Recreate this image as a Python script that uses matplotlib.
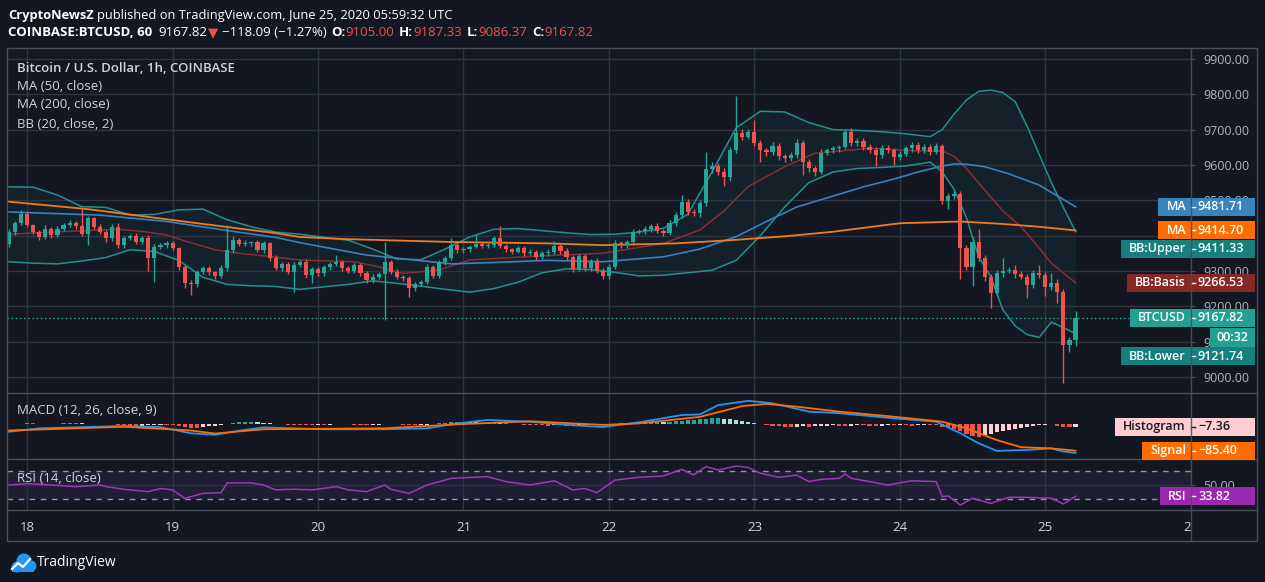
import matplotlib
matplotlib.use('Agg')
import matplotlib.pyplot as plt
import numpy as np
import pandas as pd
from matplotlib.patches import Rectangle, Circle
from matplotlib.ticker import FuncFormatter

# ---------------- DATA ----------------
start_time = '2020-06-17 21:00'
first_open = 9375.0
close = np.array([
    9410, 9436, 9462, 9430, 9411, 9396, 9420, 9402, 9420, 9430,
    9435, 9428, 9405, 9449, 9425, 9411, 9392, 9425, 9374, 9394,
    9400, 9383, 9392, 9336, 9369, 9373, 9378, 9364, 9312, 9265,
    9262, 9296, 9309, 9296, 9287, 9308, 9359, 9388, 9376, 9380,
    9381, 9359, 9378, 9336, 9308, 9320, 9298, 9317, 9326, 9289,
    9305, 9293, 9310, 9320, 9326, 9307, 9301, 9317, 9293, 9274,
    9284, 9291, 9326, 9298, 9284, 9279, 9251, 9263, 9270, 9312,
    9286, 9324, 9336, 9374, 9358, 9361, 9369, 9376, 9371, 9374,
    9392, 9371, 9361, 9355, 9364, 9350, 9355, 9340, 9350, 9355,
    9371, 9357, 9339, 9305, 9342, 9307, 9329, 9301, 9286, 9312,
    9380, 9373, 9383, 9411, 9414, 9418, 9428, 9413, 9408, 9435,
    9458, 9496, 9468, 9463, 9491, 9588, 9597, 9581, 9565, 9642,
    9691, 9680, 9694, 9663, 9641, 9636, 9654, 9624, 9619, 9628,
    9663, 9609, 9590, 9580, 9635, 9641, 9647, 9650, 9694, 9661,
    9668, 9652, 9643, 9628, 9649, 9643, 9622, 9631, 9647, 9656,
    9642, 9651, 9638, 9654, 9499, 9512, 9518, 9364, 9312, 9383,
    9336, 9282, 9237, 9293, 9301, 9303, 9291, 9284, 9260, 9293,
    9289, 9255, 9267, 9241, 9090, 9105, 9167.82], dtype=float)

upper_wick = np.array([
    8, 6, 10, 5, 4, 6, 9, 5, 7, 6,
    8, 5, 49, 6, 4, 7, 5, 8, 12, 6,
    5, 7, 8, 10, 6, 5, 8, 7, 5, 6,
    8, 7, 5, 6, 4, 8, 71, 10, 6, 8,
    5, 7, 6, 5, 8, 6, 5, 7, 6, 8,
    6, 5, 7, 6, 19, 5, 7, 6, 5, 8,
    6, 5, 57, 6, 8, 5, 7, 6, 5, 8,
    6, 7, 5, 18, 6, 8, 5, 26, 7, 6,
    8, 35, 6, 5, 7, 6, 8, 5, 6, 7,
    14, 6, 8, 5, 7, 6, 5, 8, 6, 7,
    8, 6, 5, 7, 6, 8, 5, 7, 6, 8,
    10, 19, 8, 7, 9, 50, 12, 8, 10, 9,
    104, 12, 9, 33, 8, 7, 10, 8, 6, 9,
    10, 8, 7, 6, 9, 8, 7, 6, 5, 10,
    8, 7, 6, 9, 8, 7, 6, 8, 7, 9,
    8, 7, 9, 8, 6, 10, 8, 7, 9, 12,
    35, 8, 10, 9, 35, 8, 14, 9, 8, 10,
    24, 8, 28, 9, 7, 8, 19.51], dtype=float)

lower_wick = np.array([
    6, 8, 5, 7, 6, 9, 5, 8, 6, 7,
    5, 8, 6, 31, 7, 5, 9, 6, 8, 10,
    6, 8, 7, 36, 66, 6, 8, 5, 9, 12,
    30, 8, 6, 7, 9, 6, 8, 7, 5, 6,
    8, 6, 7, 9, 6, 8, 7, 57, 6, 9,
    24, 7, 6, 8, 5, 7, 6, 8, 7, 9,
    8, 6, 130, 7, 6, 8, 24, 7, 5, 8,
    7, 6, 8, 5, 7, 6, 8, 5, 7, 6,
    5, 7, 6, 8, 5, 7, 6, 8, 5, 7,
    6, 8, 7, 9, 6, 8, 7, 6, 10, 8,
    6, 8, 7, 5, 6, 8, 7, 6, 8, 7,
    9, 8, 10, 7, 9, 8, 12, 9, 25, 10,
    8, 9, 7, 8, 32, 10, 8, 9, 12, 8,
    9, 37, 10, 12, 5, 8, 7, 9, 6, 8,
    7, 9, 8, 31, 7, 9, 22, 8, 7, 9,
    8, 7, 9, 8, 10, 25, 9, 88, 10, 55,
    9, 10, 43, 8, 9, 7, 10, 8, 37, 9,
    8, 26, 10, 33, 108, 18, 18.63], dtype=float)

# Bollinger bands (sampled at candle indices)
bb_idx = [0, 4, 8, 12, 16, 20, 24, 28, 32, 36, 40, 44, 48, 52, 56, 60, 64, 68, 72, 76,
          80, 84, 88, 92, 96, 100, 104, 108, 112, 116, 120, 124, 128, 132, 136, 140, 144,
          148, 152, 154, 156, 158, 160, 162, 164, 166, 168, 170, 172, 174, 176]
bb_upper = [9538, 9537, 9515, 9482, 9480, 9458, 9460, 9473, 9475, 9445, 9425, 9410, 9404,
            9395, 9387, 9362, 9334, 9332, 9362, 9396, 9418, 9420, 9414, 9408, 9403, 9404,
            9410, 9421, 9460, 9580, 9705, 9752, 9750, 9720, 9700, 9698, 9694, 9688, 9680,
            9700, 9745, 9784, 9808, 9812, 9805, 9780, 9710, 9630, 9550, 9480, 9411.33]
bb_lower = [9326, 9322, 9320, 9328, 9338, 9360, 9355, 9330, 9282, 9262, 9258, 9256, 9248,
            9255, 9262, 9272, 9265, 9257, 9248, 9240, 9250, 9268, 9295, 9306, 9304, 9296,
            9286, 9288, 9295, 9302, 9330, 9400, 9481, 9550, 9580, 9590, 9593, 9597, 9608,
            9580, 9530, 9450, 9340, 9284, 9190, 9145, 9120, 9112, 9155, 9140, 9121.74]
basis_idx = [0, 7, 15, 18, 22, 26, 29, 34, 38, 43, 48, 57, 61, 65, 71, 76, 87, 98, 108, 114,
             118, 122, 128, 133, 142, 150, 154, 156, 158, 161, 164, 167, 170, 172, 176]
basis_vals = [9404, 9410, 9416, 9418, 9412, 9402, 9385, 9360, 9350, 9341, 9331, 9326, 9312,
              9293, 9303, 9331, 9342, 9350, 9378, 9416, 9470, 9539, 9595, 9633, 9647, 9640,
              9640, 9624, 9590, 9529, 9470, 9425, 9365, 9322, 9266.53]

ma50_idx = [0, 15, 26, 37, 44, 48, 59, 73, 80, 89, 98, 108, 114, 120, 125, 130, 136, 141,
            146, 150, 154, 156, 158, 161, 165, 170, 176]
ma50_vals = [9467, 9458, 9440, 9412, 9395, 9380, 9345, 9320, 9324, 9330, 9326, 9340, 9362,
             9397, 9440, 9481, 9512, 9538, 9560, 9580, 9597, 9603, 9602, 9595, 9575, 9543,
             9481.71]
ma200_idx = [0, 13, 27, 44, 48, 56, 73, 89, 98, 110, 119, 128, 136, 147, 157, 164, 170, 176]
ma200_vals = [9496, 9475, 9444, 9407, 9396, 9390, 9382, 9378, 9373, 9378, 9387, 9398, 9411,
              9435, 9440, 9433, 9425, 9414.70]

# MACD
hist = np.array([
    1, 2, 2, 3, 3, 2, 2, 1, 2, 3, 3, 4, 3, 2, 2, 1, 1, 0,
    -2, -3, -4, -5, -4, -3, -2, -1, -1, -2, -6, -9, -11, -12, -9, -6, -4, -2,
    2, 4, 6, 7, 8, 7, 5, 3, 1, 0,
    -1, -2, -3, -3, -3, -2, -2, -1, 0, 1, 0, -1, -2, -3, -2, -1, 0, 1, 0, -1, -2, -3, -2, -1, 1,
    3, 5, 6, 7, 8, 7, 6, 5, 4, 4, 3, 3, 2, 1,
    -1, -2, -3, -3, -4, -3, -3, -4, -5, -4, -3, -2, -1,
    1, 2, 2, 3, 3, 4,
    5, 5, 6, 7, 6, 8, 10, 12, 14, 15, 17, 18, 19, 19, 18, 17, 15, 12, 8, 4, 1, -1,
    -4, -7, -9, -10, -8, -6, -8, -7,
    -5, -4, -3, -4, -5, -4, -3, -3, -4, -5, -4, -3, -3, -2, -3, -4, -3, -2, -2, -3,
    -8, -10, -14, -22, -30, -37, -40, -36, -30,
    -26, -22, -18, -14, -11, -8, -5, -3, -1,
    1, -4, -8, -9, -7.36], dtype=float)
macd_idx = [0, 5, 19, 25, 30, 34, 38, 42, 52, 62, 69, 74, 79, 86, 93, 98, 104, 111, 114,
            117, 122, 126, 132, 137, 146, 153, 157, 160, 163, 168, 172, 174, 176]
macd_vals = [-24, -13, -5.5, -9, -29, -34, -20.6, -10, -16, -16, -13, 3, 14, 8, -3, -9, 6.5,
             30, 32, 62, 76, 68, 41, 36, 19.4, 8.4, -29, -61.5, -86, -83, -78, -88, -92.76]
sig_idx = [0, 19, 30, 34, 42, 62, 74, 86, 98, 104, 114, 121, 125, 130, 137, 146, 154, 158,
           163, 167, 172, 176]
sig_vals = [-20, -8, -20, -30, -16, -13, 0, 10, -2, 3, 24, 59, 66, 57, 41, 24.6, 8.4, -13,
            -51, -74, -78, -85.40]

# RSI
rsi_idx = [0, 3, 7, 11, 15, 16, 19, 23, 25, 27, 29, 32, 35, 36, 40, 42, 44, 47, 50, 54,
           56, 59, 62, 63, 66, 69, 73, 79, 82, 86, 90, 93, 95, 97, 100, 104, 108, 111, 113,
           115, 117, 120, 122, 124, 127, 130, 132, 134, 137, 138, 139, 142, 145, 149, 153,
           154, 155, 157, 159, 162, 165, 168, 172, 174, 176]
rsi_vals = [50, 52, 50, 47.6, 50, 47.6, 43.8, 40.5, 45, 43, 31, 38, 39, 53, 53, 50, 43, 44,
            43, 47.6, 43, 40.5, 50, 43.8, 38, 50, 59.5, 61.9, 54.8, 50, 56, 43, 45, 39, 57,
            61, 62.9, 72.4, 64.3, 76.2, 71.4, 77, 75, 66.7, 61, 64, 55, 58, 59.5, 65.7, 59.5,
            54.8, 50, 56, 54.8, 33.3, 34.3, 21.4, 31, 23.8, 32.4, 32.4, 31, 22.9, 33.82]

price_ticks = [9000, 9100, 9200, 9300, 9400, 9500, 9600, 9700, 9800, 9900]
day_labels = ['18', '19', '20', '21', '22', '23', '24', '25', '26']
countdown = '00:32'

# ---------------- STYLE ----------------
BG = '#131722'
GRID = '#2f3441'
BORDER = '#4a4f5c'
TXT = '#d1d4dc'
AXT = '#b2b5be'
UP = '#26a69a'
DN = '#ef5350'

W, H = 1265, 582
plt.rcParams['font.family'] = ['Open Sans', 'DejaVu Sans']
fig = plt.figure(figsize=(W / 100, H / 100), dpi=100, facecolor=BG)


def add_px(x0, y0, x1, y1, **kw):
    return fig.add_axes([x0 / W, 1 - y1 / H, (x1 - x0) / W, (y1 - y0) / H], **kw)


ax = add_px(7, 48, 1191, 393)
mx = add_px(7, 393, 1191, 459, sharex=ax)
rx = add_px(7, 459, 1191, 510, sharex=ax)
dx = add_px(7, 510, 1191, 541, sharex=ax)

for a in (ax, mx, rx, dx):
    a.set_facecolor(BG)
    for s in a.spines.values():
        s.set_visible(False)

n = len(close)
idx = np.arange(n)
times = pd.date_range(start_time, periods=n, freq='h')
days = pd.date_range('2020-06-18', periods=len(day_labels), freq='D')
day_pos = [(d - times[0]) / pd.Timedelta(hours=1) for d in days]

ax.set_xlim(-0.33, 195.05)
ax.set_xticks(day_pos)
ax.set_ylim(8954.6, 9931)
mx.set_ylim(-112.3, 101.3)
rx.set_ylim(14.3, 87.1)
dx.set_ylim(0, 1)

# candles
opens = np.concatenate([[first_open], close[:-1]])
body_lo = np.minimum(opens, close)
body_hi = np.maximum(opens, close)
cols = np.where(close >= opens, UP, DN)
ax.vlines(idx, body_lo - lower_wick, body_hi + upper_wick, colors=cols, linewidth=1, zorder=4)
ax.bar(idx, np.maximum(body_hi - body_lo, 1.5), bottom=body_lo, width=0.68, color=cols,
       linewidth=0, zorder=5)

# indicators
ax.fill_between(bb_idx, bb_lower, bb_upper, color='#26a69a', alpha=0.07, lw=0, zorder=1)
ax.plot(bb_idx, bb_upper, color='#23908f', lw=1.1, zorder=3)
ax.plot(bb_idx, bb_lower, color='#23908f', lw=1.1, zorder=3)
ax.plot(basis_idx, basis_vals, color='#8a2d30', lw=1.1, zorder=3)
ax.plot(ma50_idx, ma50_vals, color='#3b80c0', lw=1.2, zorder=3)
ax.plot(ma200_idx, ma200_vals, color='#ef7d1f', lw=1.3, zorder=3)
ax.axhline(close[-1], color=UP, lw=1, ls=(0, (1, 2)), zorder=2)

covered = []  # pixel (top-origin) y ranges fully hidden by value labels


def price_fmt(v, p):
    yt = H - ax.transData.transform((0, v))[1]
    for a, b in covered:
        if a <= yt - 6 and yt + 6 <= b:
            return ''
    return f'{v:.2f}'


ax.set_yticks(price_ticks)
ax.yaxis.tick_right()
ax.yaxis.set_major_formatter(FuncFormatter(price_fmt))
ax.tick_params(axis='y', colors=BORDER, labelcolor=AXT, labelsize=9, length=3, pad=6)
ax.tick_params(axis='x', length=0, labelbottom=False)
ax.grid(True, color=GRID, lw=1, zorder=0)

# MACD
prev = np.concatenate([[hist[0]], hist[:-1]])
hcols = np.where(hist >= 0, np.where(hist >= prev, '#26a69a', '#b2dfdb'),
                 np.where(hist <= prev, '#ef5350', '#ffcdd2'))
mx.bar(idx, np.where(np.abs(hist) < 1.2, np.sign(hist + 1e-9) * 1.2, hist), width=0.68,
       color=hcols, linewidth=0, zorder=2)
mx.plot(macd_idx, macd_vals, color='#2196f3', lw=1.3, zorder=3)
mx.plot(sig_idx, sig_vals, color='#ff6d00', lw=1.3, zorder=3)
mx.tick_params(axis='both', length=0, labelbottom=False, labelleft=False, labelright=False)
mx.set_yticks([])
mx.grid(True, axis='x', color=GRID, lw=1, zorder=0)

# RSI
rx.axhspan(30, 70, color='#7e57c2', alpha=0.12, lw=0, zorder=1)
rx.axhline(70, color='#9598a1', lw=1, ls=(0, (4, 4)), zorder=2)
rx.axhline(30, color='#9598a1', lw=1, ls=(0, (4, 4)), zorder=2)
rx.plot(rsi_idx, rsi_vals, color='#9a3ab8', lw=1.1, zorder=3)
rx.set_yticks([50])
rx.yaxis.tick_right()
rx.yaxis.set_major_formatter(FuncFormatter(lambda v, p: f'{v:.2f}'))
rx.tick_params(axis='y', colors=BORDER, labelcolor=AXT, labelsize=9, length=3, pad=6)
rx.tick_params(axis='x', length=0, labelbottom=False)
rx.grid(True, color=GRID, lw=1, zorder=0)

dx.set_yticks([])
dx.tick_params(axis='x', length=0, labelbottom=False)
for p, lab in zip(day_pos, day_labels):
    dx.text(p, 0.42, lab, ha='center', va='center', color=TXT, fontsize=9.5, clip_on=True)

# ---------------- OVERLAY (pixel coords, top origin) ----------------
ov = fig.add_axes([0, 0, 1, 1])
ov.set_xlim(0, W)
ov.set_ylim(H, 0)
ov.axis('off')
ov.patch.set_alpha(0)

ov.add_patch(Rectangle((7, 48), 1250, 493, fill=False, ec=BORDER, lw=1))
for yy in (393, 459, 510):
    ov.plot([7, 1257], [yy, yy], color=BORDER, lw=1)

renderer = fig.canvas.get_renderer()


def ytop(a, v):
    return H - a.transData.transform((0, v))[1]


def seq_text(x, y, segs, size=9.5):
    for s, color, weight, gap in segs:
        t = ov.text(x, y, s, color=color, fontsize=size, fontweight=weight, va='center', ha='left')
        x += t.get_window_extent(renderer=renderer).width + gap
    return x


seq_text(8, 15, [('CryptoNewsZ', 'white', 'bold', 3),
                 ('published on TradingView.com, June 25, 2020 05:59:32 UTC', 'white', 'normal', 0)],
         size=9.3)
seq_text(8, 33, [('COINBASE:BTCUSD, 60', 'white', 'bold', 6),
                 (f'{close[-1]:.2f}', 'white', 'normal', 1),
                 ('▼', DN, 'normal', 3),
                 ('\u2212118.09 (\u22121.27%)', 'white', 'normal', 5),
                 ('O:', 'white', 'bold', 0), (f'{opens[-1]:.2f}', DN, 'normal', 5),
                 ('H:', 'white', 'bold', 0), (f'{body_hi[-1] + upper_wick[-1]:.2f}', DN, 'normal', 5),
                 ('L:', 'white', 'bold', 0), (f'{body_lo[-1] - lower_wick[-1]:.2f}', DN, 'normal', 5),
                 ('C:', 'white', 'bold', 0), (f'{close[-1]:.2f}', DN, 'normal', 0)])

ov.text(17, 68, 'Bitcoin / U.S. Dollar, 1h, COINBASE', color=TXT, fontsize=9.5,
        fontweight='semibold', va='center')
for yy, s in ((86, 'MA (50, close)'), (105, 'MA (200, close)'), (124, 'BB (20, close, 2)')):
    ov.text(17, yy, s, color=TXT, fontsize=9.5, va='center')
ov.text(17, 411, 'MACD (12, 26, close, 9)', color=TXT, fontsize=9.5, va='center')
ov.text(17, 478, 'RSI (14, close)', color=TXT, fontsize=9.5, va='center')


def axis_label(yc, name, value, bg, fg='white', h=18):
    tn = ov.text(1186, yc, name, color=fg, fontsize=9, fontweight='semibold',
                 ha='right', va='center', zorder=11)
    ov.text(1198, yc, value, color=fg, fontsize=9, fontweight='semibold',
            ha='left', va='center', zorder=11)
    x0 = tn.get_window_extent(renderer=renderer).x0 - 8
    ov.add_patch(Rectangle((x0, yc - h / 2), 1255 - x0, h, color=bg, lw=0, zorder=10))
    ov.plot([1191, 1195], [yc, yc], color=fg, lw=1, zorder=11)
    return yc - h / 2, yc + h / 2


labels = [
    (ytop(ax, ma50_vals[-1]), 'MA', f'{ma50_vals[-1]:.2f}', '#3a84bd', 0),
    (ytop(ax, ma200_vals[-1]), 'MA', f'{ma200_vals[-1]:.2f}', '#ff6d00', 0),
    (ytop(ax, bb_upper[-1]), 'BB:Upper', f'{bb_upper[-1]:.2f}', '#16807f', 0),
    (ytop(ax, basis_vals[-1]), 'BB:Basis', f'{basis_vals[-1]:.2f}', '#862828', 0),
    (ytop(ax, close[-1]), 'BTCUSD', f'{close[-1]:.2f}', '#22a192', 20),
    (ytop(ax, bb_lower[-1]), 'BB:Lower', f'{bb_lower[-1]:.2f}', '#16807f', 0),
]
labels.sort(key=lambda t: t[0])
bottom = -1e9
spans = []
for yc, name, val, bg, extra in labels:
    yc = max(yc, bottom + 9.5)
    spans.append(axis_label(yc, name, val, bg))
    if extra:
        ov.add_patch(Rectangle((1210, yc + 10), 45, 19, color=bg, lw=0, zorder=10))
        ov.text(1232.5, yc + 19.5, countdown, color='white', fontsize=9, fontweight='semibold',
                ha='center', va='center', zorder=11)
    bottom = yc + 9 + extra

# merge adjacent label boxes (gap <= 2 px) to know which tick labels are fully hidden
spans.sort()
for a, b in spans:
    if covered and a - covered[-1][1] <= 2.5:
        covered[-1] = (covered[-1][0], max(b, covered[-1][1]))
    else:
        covered.append((a, b))

axis_label(ytop(mx, hist[-1]), 'Histogram', f'\u2212{abs(hist[-1]):.2f}', '#ffcdd2', fg='#131722')
axis_label(ytop(mx, sig_vals[-1]), 'Signal', f'\u2212{abs(sig_vals[-1]):.2f}', '#ff6d00')
axis_label(ytop(rx, rsi_vals[-1]), 'RSI', f'{rsi_vals[-1]:.2f}', '#9c27b0')

ov.plot([1191, 1191], [48, 541], color=BORDER, lw=1, zorder=12, alpha=0.9)

# footer logo
for cx, cy, r in ((17, 567, 5.5), (24, 561, 7.5), (31, 566, 5.5)):
    ov.add_patch(Circle((cx, cy), r, color='#2196f3', lw=0))
ov.add_patch(Rectangle((12, 566), 22, 6, color='#2196f3', lw=0))
ov.plot([12, 18, 23, 30], [569, 563, 567, 559], color='white', lw=1.6)
ov.text(37, 563, 'TradingView', color='white', fontsize=10, va='center')

fig.savefig('out.png', dpi=100, facecolor=BG)
